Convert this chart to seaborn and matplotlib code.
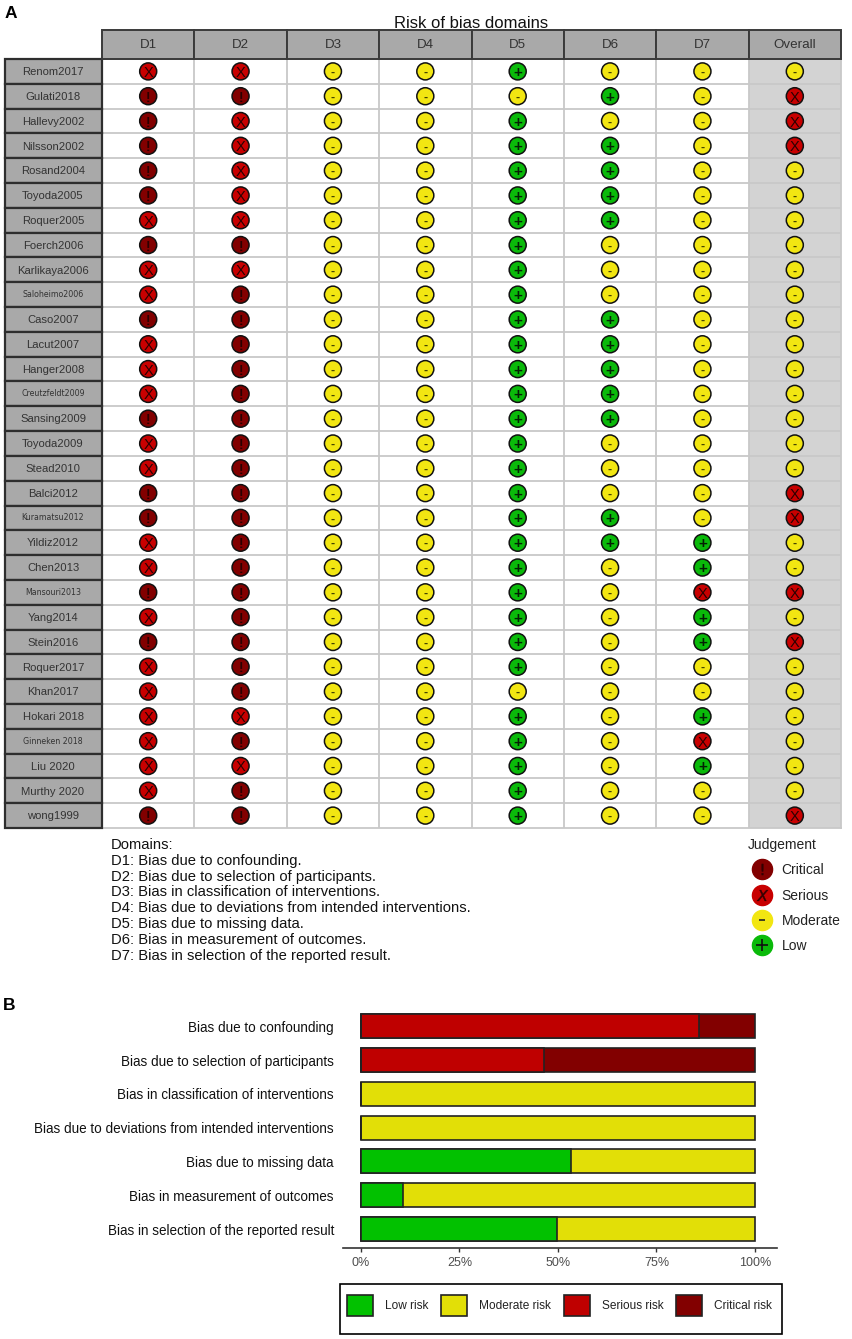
import matplotlib
matplotlib.use("Agg")
import matplotlib.pyplot as plt
from matplotlib.patches import Rectangle, Patch
from matplotlib.lines import Line2D
from matplotlib.legend_handler import HandlerTuple
import numpy as np
import pandas as pd
import seaborn as sns

studies = ["Renom2017", "Gulati2018", "Hallevy2002", "Nilsson2002", "Rosand2004", "Toyoda2005",
           "Roquer2005", "Foerch2006", "Karlikaya2006", "Saloheimo2006", "Caso2007", "Lacut2007",
           "Hanger2008", "Creutzfeldt2009", "Sansing2009", "Toyoda2009", "Stead2010", "Balci2012",
           "Kuramatsu2012", "Yildiz2012", "Chen2013", "Mansouri2013", "Yang2014", "Stein2016",
           "Roquer2017", "Khan2017", "Hokari 2018", "Ginneken 2018", "Liu 2020", "Murthy 2020", "wong1999"]
small_labels = ["Saloheimo2006", "Creutzfeldt2009", "Kuramatsu2012", "Mansouri2013", "Ginneken 2018"]
domains = ["D1", "D2", "D3", "D4", "D5", "D6", "D7", "Overall"]

d1 = list("SCCCCCSCSS" "CSSSCSSCCS" "SCSCSSSSSS" "C")
d2 = list("SCSSSSSCSC" "CCCCCCCCCC" "CCCCCCSCSC" "C")
d3 = list("M" * 31)
d4 = list("M" * 31)
d5 = list("LMLLLLLLLL" "LLLLLLLLLL" "LLLLLMLLLL" "L")
d6 = list("MLMLLLLMMM" "LLLLLMMMLL" "MMMMMMMMMM" "M")
d7 = list("MMMMMMMMMM" "MMMMMMMMML" "LSLLMMLSLM" "M")
overall = list("MSSSMMMMMM" "MMMMMMMSSM" "MSMSMMMMMM" "S")
judgements = [d1, d2, d3, d4, d5, d6, d7, overall]

judge_names = ["Critical", "Serious", "Moderate", "Low"]
judge_codes = ["C", "S", "M", "L"]
judge_symbols = ["!", "X", "-", "+"]
dom_lines = ["Domains:", "D1: Bias due to confounding.", "D2: Bias due to selection of participants.",
             "D3: Bias in classification of interventions.",
             "D4: Bias due to deviations from intended interventions.",
             "D5: Bias due to missing data.", "D6: Bias in measurement of outcomes.",
             "D7: Bias in selection of the reported result."]

summary_domains = ["Bias due to confounding", "Bias due to selection of participants",
                   "Bias in classification of interventions", "Bias due to deviations from intended interventions",
                   "Bias due to missing data", "Bias in measurement of outcomes",
                   "Bias in selection of the reported result"]
low_risk = [0, 0, 0, 0, 53.3, 10.6, 49.7]
moderate_risk = [0, 0, 100, 100, 46.7, 89.4, 50.3]
serious_risk = [85.7, 46.5, 0, 0, 0, 0, 0]
critical_risk = [14.3, 53.5, 0, 0, 0, 0, 0]
risk_labels = ["Low risk", "Moderate risk", "Serious risk", "Critical risk"]
pct_ticks = [0, 25, 50, 75, 100]

sns.set_theme(style="white")
plt.rcParams["font.family"] = ["Liberation Sans", "DejaVu Sans"]

W, H = 852, 1339
fig = plt.figure(figsize=(W / 100, H / 100), dpi=100, facecolor="white")


def box(l, t, r, b):
    return [l / W, 1 - b / H, (r - l) / W, (b - t) / H]


light = {"C": "#820000", "S": "#C80000", "M": "#F2E612", "L": "#0ABA0A"}
bar_cols = ["#02C100", "#E2DF07", "#BF0000", "#820000"]

# ---------- Panel A
ax = fig.add_axes(box(102, 59, 841, 828))
rows = []
for dom, col in zip(domains, judgements):
    for st, j in zip(studies, col):
        rows.append({"study": st, "domain": dom, "judgement": j})
df = pd.DataFrame(rows)
sns.scatterplot(data=df, x="domain", y="study", hue="judgement", palette=light, s=150,
                edgecolor="#111111", linewidth=1.1, legend=False, ax=ax, zorder=3, clip_on=False)
ax.set_xlim(-0.5, 7.5)
ax.set_ylim(30.5, -0.5)
ax.set_xlabel("")
ax.set_ylabel("")
ax.set_xticks(np.arange(0.5, 7.5))
ax.set_yticks(np.arange(0.5, 30.5))
ax.set_xticklabels([])
ax.set_yticklabels([])
ax.tick_params(length=0)
ax.grid(True, color="#C8C8C8", lw=1.3, zorder=1)
ax.set_axisbelow(True)
for s in ax.spines.values():
    s.set_color("#C8C8C8")
    s.set_linewidth(1.3)
ax.add_patch(Rectangle((6.5, -0.5), 1, 31, fc="#D3D3D3", ec="none", zorder=0.5))

sym = dict(zip(judge_codes, judge_symbols))
sym_size = {"!": 10, "X": 10.5, "-": 9, "+": 11}
sym_weight = {"!": "bold", "X": "normal", "-": "bold", "+": "bold"}
sym_col = {"!": "#2A0000", "X": "#2A0000", "-": "#444400", "+": "#042004"}
for _, r in df.iterrows():
    s_ = sym[r["judgement"]]
    ax.text(domains.index(r["domain"]), studies.index(r["study"]) + 0.06, s_,
            ha="center", va="center", fontsize=sym_size[s_], fontweight=sym_weight[s_],
            color=sym_col[s_], zorder=4)

row_h = 769 / 31
col_w = 739 / 8
strip_left = -0.5 - 97 / col_w
for i, st in enumerate(studies):
    ax.add_patch(Rectangle((strip_left, i - 0.5), 97 / col_w, 1, fc="#A9A9A9", ec="#2E2E2E", lw=1.6,
                           clip_on=False, zorder=5))
    if st in small_labels:
        ax.text(strip_left + 0.52, i, st, ha="center", va="center", fontsize=5.7, color="#333333",
                family="DejaVu Sans", clip_on=False, zorder=6)
    else:
        ax.text(strip_left + 0.52, i + 0.03, st, ha="center", va="center", fontsize=8.1, color="#333333",
                clip_on=False, zorder=6)
strip_h = 29 / row_h
for i, dom in enumerate(domains):
    ax.add_patch(Rectangle((i - 0.5, -0.5 - strip_h), 1, strip_h, fc="#A9A9A9", ec="#3A3A3A", lw=1.4,
                           clip_on=False, zorder=5))
    ax.text(i, -0.5 - strip_h / 2, dom, ha="center", va="center", fontsize=9.6, color="#333333",
            clip_on=False, zorder=6)
ax.text(3.5, -0.5 - 36 / row_h, "Risk of bias domains", ha="center", va="center", fontsize=12, color="#111111")

fig.text(5 / W, 1 - 13 / H, "A", fontsize=12.5, fontweight="bold", color="black", ha="left", va="center")
fig.text(3 / W, 1 - 1005 / H, "B", fontsize=12.5, fontweight="bold", color="black", ha="left", va="center")

for i, line in enumerate(dom_lines):
    fig.text(111 / W, 1 - (845 + i * 15.8) / H, line, fontsize=10.65, color="#111111", ha="left", va="center")

handles = []
for c, n, s in zip(judge_codes, judge_names, judge_symbols):
    circ = Line2D([], [], ls="", marker="o", ms=14.5, mfc=light[c], mec=light[c])
    if s == "-":
        mk = Line2D([], [], ls="", marker="_", ms=4.5, mec="#222222", mew=1.2)
    elif s == "+":
        mk = Line2D([], [], ls="", marker="+", ms=8, mec="#111111", mew=1.2)
    else:
        mk = Line2D([], [], ls="", marker=f"${s}$", ms=8, mfc="#330000", mec="#330000", mew=0.3)
    handles.append((circ, mk))
leg = ax.legend(handles, judge_names, handler_map={tuple: HandlerTuple(ndivide=1, pad=0)},
                title="Judgement", loc="upper left", bbox_to_anchor=((745 - 102) / 739, (828 - 835) / 769),
                frameon=False, fontsize=10, title_fontsize=10, labelspacing=0.82, handletextpad=0.42,
                handlelength=2.0, borderpad=0.2, borderaxespad=0, alignment="left")
for t in leg.get_texts():
    t.set_color("#222222")
leg.get_title().set_color("#222222")

# ---------- Panel B
ax2 = fig.add_axes(box(343, 1008, 777, 1248.3))
seg = pd.DataFrame({"domain": summary_domains, "Low": low_risk, "Moderate": moderate_risk,
                    "Serious": serious_risk, "Critical": critical_risk})
order = ["Low", "Moderate", "Serious", "Critical"]
edges = seg[order].cumsum(axis=1)
for name, colr in zip(order[::-1], bar_cols[::-1]):
    keep = seg[name] > 0
    part = pd.DataFrame({"domain": seg["domain"], "end": edges[name].where(keep, 0)})
    sns.barplot(data=part, x="end", y="domain", order=summary_domains, color=colr, saturation=1,
                width=0.71, edgecolor="#222222", linewidth=1.2, ax=ax2, orient="h", dodge=False)
ax2.set_xlim(-4.57, 105.6)
ax2.set_ylim(6.57, -0.54)
ax2.set_xlabel("")
ax2.set_ylabel("")
ax2.set_xticks(pct_ticks)
ax2.set_xticklabels([f"{p}%" for p in pct_ticks])
ax2.tick_params(axis="x", length=3, width=1, color="#333333", labelcolor="#4D4D4D", labelsize=9, pad=3, bottom=True)
ax2.tick_params(axis="y", length=0, labelsize=9.75, labelcolor="#111111", pad=6.5)
for k in ["top", "left", "right"]:
    ax2.spines[k].set_visible(False)
ax2.spines["bottom"].set_color("#333333")
ax2.spines["bottom"].set_linewidth(1.2)
leg2 = ax2.legend([Patch(fc=c, ec="#222222", lw=1.2) for c in bar_cols], risk_labels, ncol=4,
                  loc="center", bbox_to_anchor=((559.5 - 343) / 434, -(1305.5 - 1248.3) / 240.3),
                  fontsize=8.6, frameon=False, handlelength=2.15,
                  handleheight=2.3, handletextpad=1.0, columnspacing=1.1, borderpad=0, borderaxespad=0)
for t in leg2.get_texts():
    t.set_color("#222222")
fig.add_artist(Rectangle((339.5 / W, 1 - 1334 / H), 442.5 / W, 50 / H, fill=False, ec="black", lw=1.2,
                         transform=fig.transFigure))

fig.savefig("out.png", dpi=100, facecolor="white")
